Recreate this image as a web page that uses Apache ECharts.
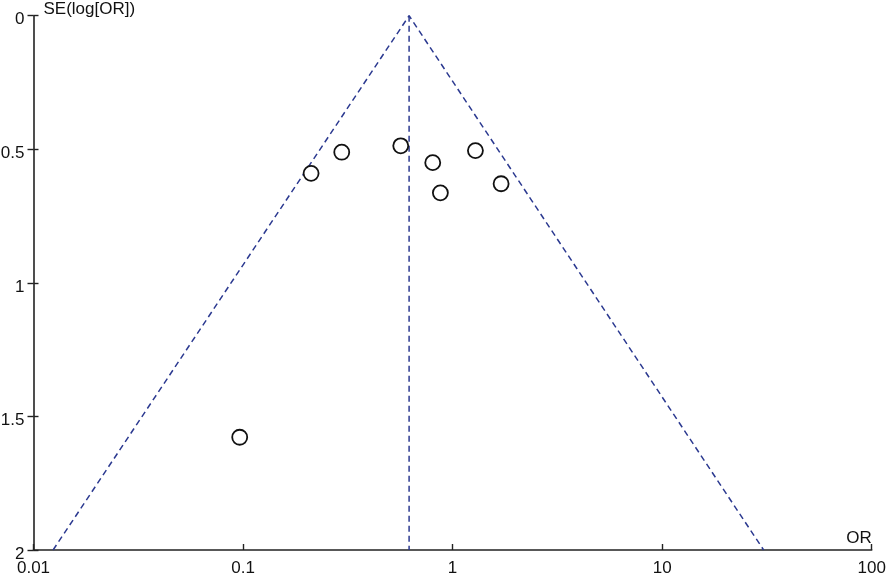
<!DOCTYPE html>
<html>
<head>
<meta charset="utf-8">
<script src="https://cdn.jsdelivr.net/npm/echarts@6/dist/echarts.min.js"></script>
<style>html,body{margin:0;padding:0;background:#fff}#c{width:886px;height:575px}</style>
</head>
<body>
<div id="c"></div>
<script>
// Study points: odds ratio and SE(log[OR])
var studyOR = [0.0964, 0.2112, 0.2958, 0.5657, 0.804, 0.8744, 1.285, 1.704];
var studySE = [1.578, 0.590, 0.511, 0.487, 0.550, 0.663, 0.505, 0.629];
// Pooled estimate and funnel limits
var pooledOR = 0.62;
var funnelOR = [0.0124, 0.62, 30.5];
var funnelSE = [2, 0, 2];
var xTicks = [0.01, 0.1, 1, 10, 100];
var yTicks = [0, 0.5, 1, 1.5, 2];

var chart = echarts.init(document.getElementById('c'));
var font = 'Liberation Sans, Arial, sans-serif';
var lineCol = '#2b3990';
chart.setOption({
  animation: false,
  grid: {left: 33.5, right: 14.3, top: 15.7, bottom: 25, containLabel: false, outerBoundsMode: 'none'},
  xAxis: {
    type: 'log', logBase: 10, min: xTicks[0], max: xTicks[xTicks.length-1],
    position: 'bottom',
    name: 'OR', nameLocation: 'end', nameGap: 0,
    nameTextStyle: {fontFamily: font, fontSize: 17, color: '#111', align: 'right', verticalAlign: 'bottom', padding: [0, 0, 3, 0]},
    axisLine: {onZero: false, lineStyle: {color: '#222', width: 1.6}},
    axisTick: {inside: true, length: 6, lineStyle: {color: '#222', width: 1.4}},
    axisLabel: {fontFamily: font, fontSize: 17, color: '#111', margin: 10,
      formatter: function (v) { return String(v); }},
    splitLine: {show: false}
  },
  yAxis: [{
    type: 'value', inverse: true, min: yTicks[0], max: yTicks[yTicks.length-1], interval: 0.5,
    position: 'left',
    name: 'SE(log[OR])', nameLocation: 'start', nameGap: 6,
    nameTextStyle: {fontFamily: font, fontSize: 17, color: '#111', align: 'left', verticalAlign: 'middle', padding: [0, 0, 0, 10]},
    axisLine: {show: true, onZero: false, lineStyle: {color: '#222', width: 1.6}},
    axisTick: {show: true, length: 6, lineStyle: {color: '#222', width: 1.4}},
    axisLabel: {fontFamily: font, fontSize: 17, color: '#111', margin: 9,
      verticalAlign: 'top', lineHeight: 8,
      formatter: function (v) { return String(v); }},
    splitLine: {show: false}
  }, {
    type: 'value', inverse: true, min: yTicks[0], max: yTicks[yTicks.length-1], interval: 0.5,
    position: 'left', offset: 0,
    axisLine: {show: false, onZero: false},
    axisTick: {show: true, inside: true, length: 5, lineStyle: {color: '#222', width: 1.4}},
    axisLabel: {show: false},
    splitLine: {show: false}
  }],
  series: [
    {
      type: 'line', data: funnelOR.map(function (o, i) { return [o, funnelSE[i]]; }),
      symbol: 'none', lineStyle: {color: lineCol, width: 1.5, type: [6, 4]}, z: 2
    },
    {
      type: 'line', data: [[pooledOR, yTicks[0]], [pooledOR, yTicks[yTicks.length-1]]],
      symbol: 'none', lineStyle: {color: lineCol, width: 1.5, type: [6, 4]}, z: 2
    },
    {
      type: 'scatter', data: studyOR.map(function (o, i) { return [o, studySE[i]]; }),
      symbol: 'circle', symbolSize: 15,
      itemStyle: {color: '#fff', borderColor: '#111', borderWidth: 1.8, opacity: 1}, z: 3
    }
  ]
});
</script>
</body>
</html>
